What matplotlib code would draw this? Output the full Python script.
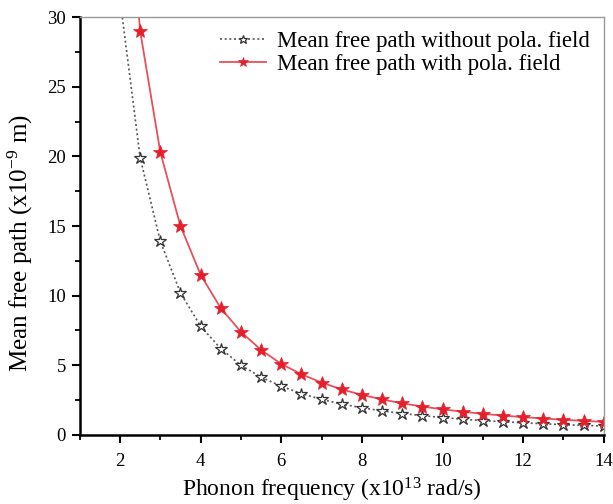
import matplotlib
matplotlib.use("Agg")
import matplotlib.pyplot as plt
from matplotlib.ticker import MultipleLocator

plt.rcParams['font.family'] = ['Liberation Serif', 'DejaVu Serif']
plt.rcParams['mathtext.default'] = 'regular'

# frequency (x10^13 rad/s)
freq = [2.0, 2.5, 3.0, 3.5, 4.0, 4.5, 5.0, 5.5, 6.0, 6.5, 7.0, 7.5, 8.0, 8.5,
        9.0, 9.5, 10.0, 10.5, 11.0, 11.5, 12.0, 12.5, 13.0, 13.5, 14.0]
# mean free path (x10^-9 m)
mfp_without = [31.3, 19.9, 13.9, 10.2, 7.8, 6.2, 5.0, 4.15, 3.5, 2.97, 2.55, 2.22,
               1.95, 1.73, 1.54, 1.39, 1.25, 1.13, 1.03, 0.95, 0.87, 0.80, 0.74,
               0.69, 0.64]
mfp_with = [46.0, 29.0, 20.3, 15.0, 11.5, 9.1, 7.4, 6.1, 5.1, 4.36, 3.76, 3.27,
            2.88, 2.55, 2.27, 2.04, 1.84, 1.67, 1.52, 1.39, 1.28, 1.18, 1.09,
            1.01, 0.94]

label_without = "Mean free path without pola. field"
label_with = "Mean free path with pola. field"

fig = plt.figure(figsize=(6.13, 5.04), dpi=100)
ax = fig.add_axes([0.130, 0.137, 0.855, 0.829])

marks = list(range(1, len(freq)))
ax.plot(freq, mfp_without, color='#555555', linestyle=(0, (1.2, 1.6)), linewidth=1.2,
        marker='*', markersize=9, markerfacecolor='white', markeredgecolor='#333333',
        markeredgewidth=0.9, markevery=marks, label=label_without)
ax.plot(freq, mfp_with, color='#e8505a', linestyle='-', linewidth=1.3,
        marker='*', markersize=10, markerfacecolor='#e5202c', markeredgecolor='#e5202c',
        markeredgewidth=0.5, markevery=marks, label=label_with)

ax.set_xlim(1, 14)
ax.set_ylim(0, 30)
ax.xaxis.set_major_locator(MultipleLocator(2))
ax.xaxis.set_minor_locator(MultipleLocator(1))
ax.yaxis.set_major_locator(MultipleLocator(5))
ax.yaxis.set_minor_locator(MultipleLocator(2.5))
ax.set_xticks([2, 4, 6, 8, 10, 12, 14])

ax.tick_params(axis='both', which='major', direction='out', length=6, width=1.5,
               labelsize=13.5, top=False, right=False)
ax.tick_params(axis='both', which='minor', direction='out', length=3.5, width=1.3,
               top=False, right=False)
ax.tick_params(axis='x', pad=7)
ax.tick_params(axis='y', pad=4)

for s in ['left', 'bottom']:
    ax.spines[s].set_linewidth(1.8)
    ax.spines[s].set_color('black')
for s in ['top', 'right']:
    ax.spines[s].set_linewidth(1.0)
    ax.spines[s].set_color('#999999')

ax.set_xlabel("Phonon frequency (x10$^{13}$ rad/s)", fontsize=17)
ax.set_ylabel("Mean free path (x10$^{-9}$ m)", fontsize=18)
ax.xaxis.set_label_coords(0.482, -0.098)
ax.yaxis.set_label_coords(-0.085, 0.46)

leg = ax.legend(loc='upper right', frameon=False, fontsize=16.5, handlelength=2.0,
                handletextpad=0.5, borderaxespad=0.2, labelspacing=0.1,
                markerscale=0.7)

fig.savefig("out.png", dpi=100)
